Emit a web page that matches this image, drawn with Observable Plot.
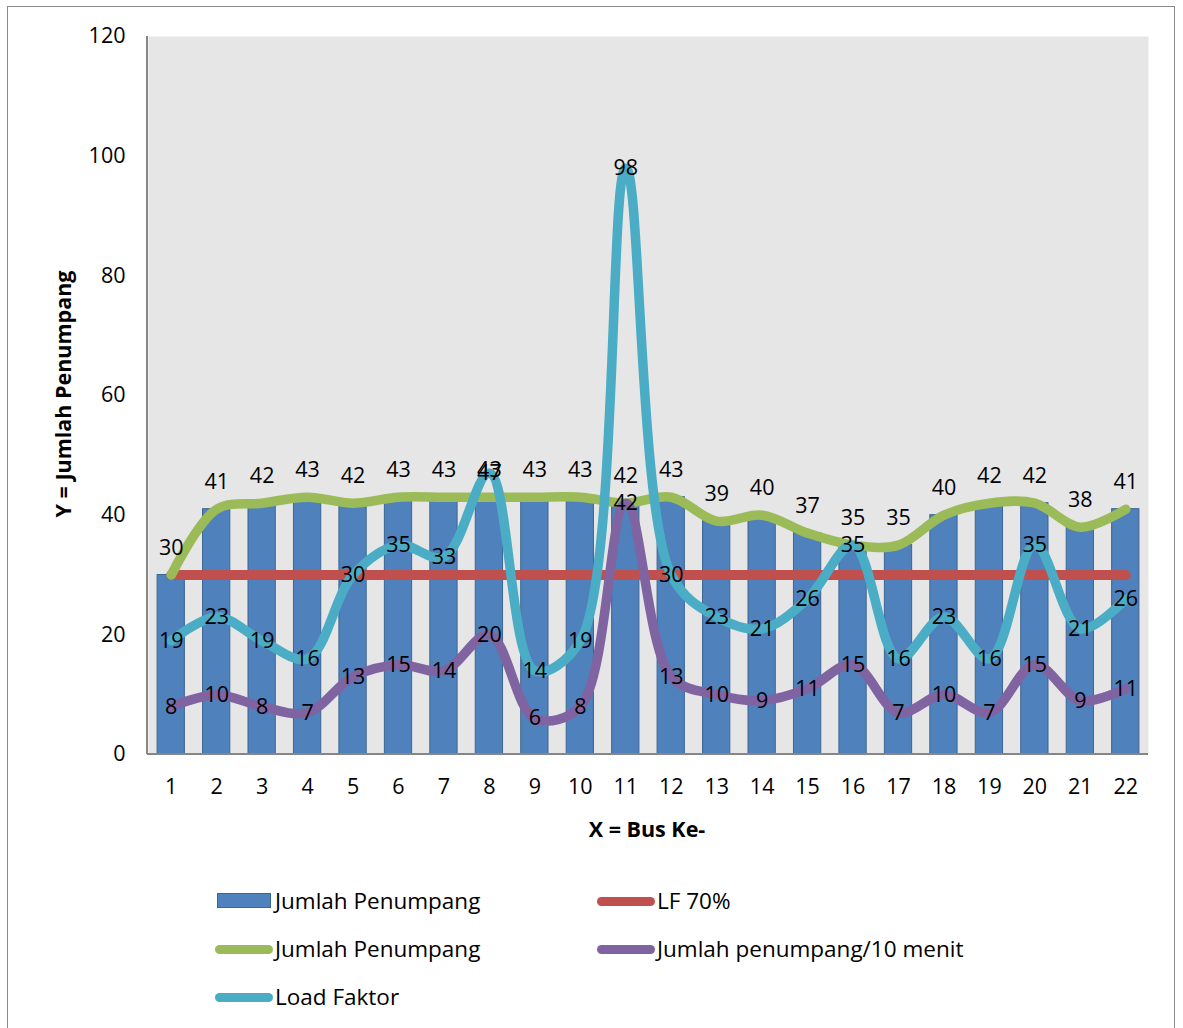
<!DOCTYPE html>
<html>
<head>
<meta charset="utf-8">
<script src="https://cdn.jsdelivr.net/npm/d3@7"></script>
<script src="https://cdn.jsdelivr.net/npm/@observablehq/plot@0.6"></script>
<style>
  body { margin: 0; background: #fff; font-family: "Open Sans", Lato, sans-serif; }
  #wrap { position: relative; width: 1183px; height: 1028px; }
  #border { position: absolute; left: 7px; top: 6px; width: 1168px; height: 1030px; border: 1.5px solid #8a8a8a; box-sizing: border-box; }
  .lbl { position: absolute; font-size: 22.5px; color: #000; white-space: nowrap; line-height: 28px; }
  .ax { position: absolute; font-weight: bold; font-size: 21.5px; white-space: nowrap; }
  .sw { position: absolute; height: 9px; border-radius: 5px; }
</style>
</head>
<body>
<div id="wrap">
  <div id="chart"></div>
  <div id="border"></div>
</div>
<script>
const buses = [1,2,3,4,5,6,7,8,9,10,11,12,13,14,15,16,17,18,19,20,21,22];
const jumlahPenumpang = [30,41,42,43,42,43,43,43,43,43,42,43,39,40,37,35,35,40,42,42,38,41];
const lf70 = [30,30,30,30,30,30,30,30,30,30,30,30,30,30,30,30,30,30,30,30,30,30];
const penumpang10Menit = [8,10,8,7,13,15,14,20,6,8,42,13,10,9,11,15,7,10,7,15,9,11];
const loadFaktor = [19,23,19,16,30,35,33,47,14,19,98,30,23,21,26,35,16,23,16,35,21,26];
const yTicks = [0,20,40,60,80,100,120];

const colors = { bar: "#4f81bd", barStroke: "#3b6593", red: "#c0504d", green: "#9bbb59", purple: "#8064a2", cyan: "#4bacc6" };

const rows = (vals) => buses.map((b, i) => ({ bus: String(b), v: vals[i] }));
const dBar = rows(jumlahPenumpang);
const dRed = rows(lf70);
const dPurple = rows(penumpang10Menit);
const dCyan = rows(loadFaktor);

const W = 1183, H = 1028;
const FONT = "'Open Sans', Lato, sans-serif";
const FS = 21.5;
const LW = 9.5;
const plot = Plot.plot({
  width: W, height: H,
  marginLeft: 148, marginRight: 35, marginTop: 36, marginBottom: 274,
  style: { fontFamily: FONT, fontSize: FS + "px", background: "transparent" },
  x: { type: "band", domain: buses.map(String), paddingInner: 0.4, paddingOuter: 0.2, round: false, label: null },
  y: { domain: [0, 120], label: null },
  marks: [
    Plot.frame({ fill: "#e6e6e6", stroke: null }),
    Plot.axisY({ ticks: yTicks, tickSize: 0, tickPadding: 23, fontSize: FS, label: null }),
    Plot.axisX({ tickSize: 0, tickPadding: 24, fontSize: FS, label: null }),
    Plot.barY(dBar, { x: "bus", y: "v", fill: colors.bar, stroke: colors.barStroke, strokeWidth: 1 }),
    (index, scales, values, dims) => {
      const g = d3.create("svg:g");
      g.append("line").attr("x1", dims.marginLeft - 1).attr("x2", dims.marginLeft - 1)
        .attr("y1", dims.marginTop).attr("y2", dims.height - dims.marginBottom)
        .attr("stroke", "#868686").attr("stroke-width", 2);
      g.append("line").attr("x1", dims.marginLeft - 1).attr("x2", dims.width - dims.marginRight)
        .attr("y1", dims.height - dims.marginBottom).attr("y2", dims.height - dims.marginBottom)
        .attr("stroke", "#868686").attr("stroke-width", 2);
      return g.node();
    },
    Plot.line(dRed, { x: "bus", y: "v", stroke: colors.red, strokeWidth: 10, strokeLinecap: "round" }),
    Plot.line(dBar, { x: "bus", y: "v", stroke: colors.green, strokeWidth: LW, curve: "catmull-rom", strokeLinecap: "round" }),
    Plot.line(dPurple, { x: "bus", y: "v", stroke: colors.purple, strokeWidth: LW, curve: "catmull-rom", strokeLinecap: "round" }),
    Plot.line(dCyan, { x: "bus", y: "v", stroke: colors.cyan, strokeWidth: LW, curve: "catmull-rom", strokeLinecap: "round" }),
    Plot.text(dBar, { x: "bus", y: "v", text: "v", dy: -27, fontSize: FS, fill: "#000" }),
    Plot.text(dPurple, { x: "bus", y: "v", text: "v", fontSize: FS, fill: "#000" }),
    Plot.text(dCyan, { x: "bus", y: "v", text: "v", fontSize: FS, fill: "#000" })
  ]
});
document.getElementById("chart").appendChild(plot);

const wrap = document.getElementById("wrap");
function add(html, cls, style) {
  const el = document.createElement("div");
  el.className = cls; el.innerHTML = html;
  Object.assign(el.style, style);
  wrap.appendChild(el);
  return el;
}
add("X = Bus Ke-", "ax", { left: "647px", top: "814px", transform: "translateX(-50%)" });
add("Y = Jumlah Penumpang", "ax", { left: "62px", top: "394px", transform: "translate(-50%,-50%) rotate(-90deg)" });

const legend = [
  { label: "Jumlah Penumpang", color: colors.bar, x: 217, y: 901, box: true },
  { label: "LF 70%", color: colors.red, x: 597, y: 901 },
  { label: "Jumlah Penumpang", color: colors.green, x: 215, y: 949 },
  { label: "Jumlah penumpang/10 menit", color: colors.purple, x: 597, y: 949 },
  { label: "Load Faktor", color: colors.cyan, x: 215, y: 997 }
];
legend.forEach(d => {
  if (d.box) {
    add("", "sw", { left: d.x + "px", top: (d.y - 8) + "px", width: "54px", height: "15px", background: d.color, border: "1px solid " + colors.barStroke, borderRadius: "0", boxSizing: "border-box" });
  } else {
    add("", "sw", { left: d.x + "px", top: (d.y - 4) + "px", width: "58px", background: d.color });
  }
  add(d.label, "lbl", { left: (d.x + (d.box ? 58 : 60)) + "px", top: (d.y - 14) + "px" });
});
</script>
</body>
</html>
